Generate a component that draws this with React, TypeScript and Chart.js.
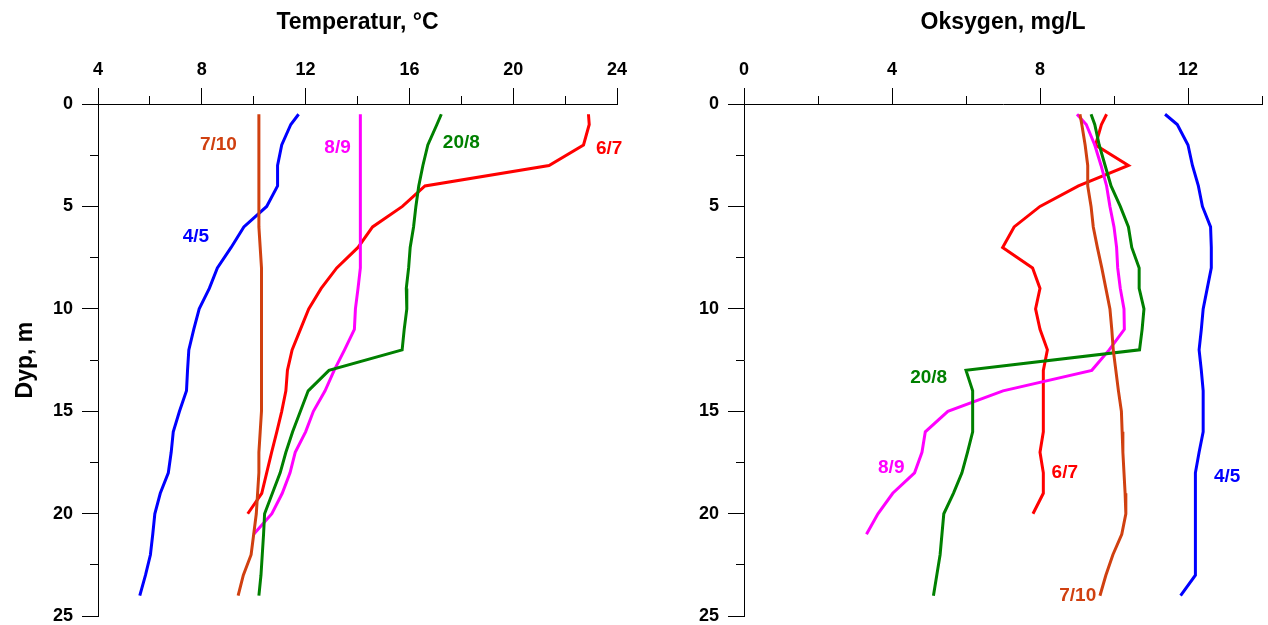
import React, { useEffect, useRef } from 'react';
import { Chart, registerables } from 'chart.js';

Chart.register(...registerables);

const FONT = '"Liberation Sans", Arial, Helvetica, sans-serif';

// ---- Depths (m) ----
const DEPTHS_0_24 = [0.5, 1, 2, 3, 4, 5, 6, 7, 8, 9, 10, 11, 12, 13, 14, 15, 16, 17, 18, 19, 20, 21, 22, 23, 24];
const DEPTHS_0_21 = DEPTHS_0_24.slice(0, 22);
const DEPTHS_0_20 = DEPTHS_0_24.slice(0, 21);

// ---- Series names ----
const SERIES_NAMES = ['7/10', '4/5', '20/8', '8/9', '6/7'];

// ---- Temperature, °C ----
const TEMP_7_10 = [10.2, 10.2, 10.2, 10.2, 10.2, 10.2, 10.2, 10.25, 10.3, 10.3, 10.3, 10.3, 10.3, 10.3, 10.3, 10.3, 10.25, 10.2, 10.2, 10.15, 10.1, 10.0, 9.9, 9.6, 9.4];
const TEMP_4_5 = [11.73, 11.43, 11.08, 10.92, 10.92, 10.5, 9.62, 9.13, 8.6, 8.29, 7.9, 7.69, 7.5, 7.45, 7.41, 7.14, 6.9, 6.82, 6.71, 6.4, 6.19, 6.11, 6.02, 5.83, 5.61];
const TEMP_20_8 = [17.23, 17.06, 16.71, 16.52, 16.36, 16.25, 16.16, 16.03, 15.97, 15.88, 15.9, 15.8, 15.72, 12.9, 12.1, 11.8, 11.5, 11.24, 11.02, 10.72, 10.42, 10.38, 10.33, 10.28, 10.2];
const TEMP_8_9 = [14.11, 14.11, 14.11, 14.11, 14.11, 14.11, 14.11, 14.11, 14.11, 14.02, 13.92, 13.88, 13.5, 13.1, 12.75, 12.3, 12.0, 11.6, 11.4, 11.1, 10.7, 10.0];
const TEMP_6_7 = [22.9, 22.93, 22.71, 21.38, 16.6, 15.73, 14.58, 14.02, 13.2, 12.6, 12.12, 11.8, 11.48, 11.3, 11.24, 11.08, 10.89, 10.69, 10.5, 10.31, 9.77];

// ---- Oxygen, mg/L ----
const OXY_7_10 = [9.08, 9.13, 9.22, 9.29, 9.29, 9.38, 9.44, 9.55, 9.67, 9.78, 9.89, 9.94, 9.98, 10.05, 10.12, 10.2, 10.22, 10.24, 10.27, 10.3, 10.32, 10.21, 9.97, 9.78, 9.62];
const OXY_4_5 = [11.38, 11.71, 12.0, 12.12, 12.28, 12.39, 12.61, 12.63, 12.63, 12.52, 12.41, 12.36, 12.3, 12.36, 12.41, 12.41, 12.41, 12.3, 12.2, 12.2, 12.2, 12.2, 12.2, 12.2, 11.8];
const OXY_20_8 = [9.38, 9.48, 9.6, 9.76, 9.92, 10.17, 10.39, 10.48, 10.68, 10.68, 10.81, 10.76, 10.69, 6.0, 6.18, 6.18, 6.18, 6.04, 5.89, 5.66, 5.4, 5.35, 5.3, 5.21, 5.12];
const OXY_8_9 = [9.0, 9.25, 9.48, 9.65, 9.8, 9.89, 10.0, 10.07, 10.1, 10.17, 10.27, 10.28, 9.87, 9.4, 7.0, 5.51, 4.9, 4.81, 4.61, 4.02, 3.62, 3.31];
const OXY_6_7 = [9.8, 9.66, 9.5, 10.39, 9.04, 8.0, 7.3, 6.99, 7.8, 8.0, 7.88, 8.0, 8.2, 8.09, 8.09, 8.09, 8.09, 8.0, 8.09, 8.09, 7.81];

// ---- Series label anchors (data units: value, depth) ----
const TEMP_LABEL_X = [8.64, 7.77, 18.0, 13.23, 23.7];
const TEMP_LABEL_Y = [2.0, 6.46, 1.9, 2.15, 2.2];
const OXY_LABEL_X = [9.02, 13.06, 4.99, 3.98, 8.67];
const OXY_LABEL_Y = [24.0, 18.2, 13.36, 17.76, 18.0];

// ---- Axis settings ----
const TEMP_MIN = 4;
const TEMP_MAX = 24;
const OXY_MIN = 0;
const OXY_MAX = 14;
const DEPTH_MIN = 0;
const DEPTH_MAX = 25;

const COLORS = ['#d04010', '#0000ff', '#008000', '#ff00ff', '#ff0000'];

function toPoints(xs: number[], ys: number[]) {
  return xs.map((v, i) => ({ x: v, y: ys[i] }));
}

function labelPlugin(xs: number[], ys: number[]) {
  return {
    id: 'seriesLabels',
    afterDatasetsDraw(chart: any) {
      const { ctx } = chart;
      const xs_ = chart.scales.x;
      const ys_ = chart.scales.y;
      ctx.save();
      ctx.font = `bold 19px ${FONT}`;
      ctx.textAlign = 'center';
      ctx.textBaseline = 'middle';
      SERIES_NAMES.forEach((name, i) => {
        ctx.fillStyle = COLORS[i];
        ctx.fillText(name, xs_.getPixelForValue(xs[i]), ys_.getPixelForValue(ys[i]));
      });
      ctx.restore();
    },
  };
}

function buildConfig(
  series: { x: number[]; y: number[] }[],
  xMin: number,
  xMax: number,
  xTitle: string,
  yTitle: string | null,
  yWidth: number,
  padRight: number,
  labelsX: number[],
  labelsY: number[]
): any {
  const tickFont = { family: FONT, size: 18, weight: 'bold' as const };
  const titleFont = { family: FONT, size: 23, weight: 'bold' as const };
  return {
    type: 'line',
    data: {
      datasets: series.map((s, i) => ({
        label: SERIES_NAMES[i],
        data: toPoints(s.x, s.y),
        borderColor: COLORS[i],
        backgroundColor: COLORS[i],
        borderWidth: 3,
        pointRadius: 0,
        tension: 0,
        fill: false,
      })),
    },
    options: {
      animation: false,
      responsive: false,
      maintainAspectRatio: false,
      events: [],
      layout: { padding: { left: 0, right: padRight, top: 0, bottom: 0 } },
      plugins: {
        legend: { display: false },
        tooltip: { enabled: false },
        title: { display: false },
      },
      scales: {
        x: {
          type: 'linear',
          position: 'top',
          min: xMin,
          max: xMax,
          ticks: {
            stepSize: 2,
            autoSkip: false,
            maxRotation: 0,
            padding: 7,
            color: '#000',
            font: tickFont,
            callback: (v: number) => (Math.abs(v % 4) < 1e-6 ? String(v) : ''),
          },
          grid: {
            drawOnChartArea: false,
            drawTicks: true,
            tickLength: 16,
            tickColor: '#000',
            tickWidth: 1,
            tickBorderDash: (c: any) =>
              c.tick && Math.abs(c.tick.value % 4) > 1e-6 ? [0, 8, 8, 100] : [],
          },
          border: { display: true, color: '#000', width: 1 },
          title: {
            display: true,
            text: xTitle,
            color: '#000',
            font: titleFont,
            padding: { top: 9, bottom: 0 },
          },
          afterFit: (s: any) => {
            s.height = 104;
          },
        },
        y: {
          type: 'linear',
          position: 'left',
          reverse: true,
          min: DEPTH_MIN,
          max: DEPTH_MAX,
          ticks: {
            stepSize: 2.5,
            autoSkip: false,
            padding: 9,
            color: '#000',
            font: tickFont,
            callback: (v: number) => (Math.abs(v % 5) < 1e-6 ? String(v) : ''),
          },
          grid: {
            drawOnChartArea: false,
            drawTicks: true,
            tickLength: 16,
            tickColor: '#000',
            tickWidth: 1,
            tickBorderDash: (c: any) =>
              c.tick && Math.abs(c.tick.value % 5) > 1e-6 ? [0, 8, 8, 100] : [],
          },
          border: { display: true, color: '#000', width: 1 },
          title: yTitle
            ? {
                display: true,
                text: yTitle,
                color: '#000',
                font: titleFont,
                padding: { top: 12, bottom: 0 },
              }
            : { display: false },
          afterFit: (s: any) => {
            s.width = yWidth;
          },
        },
      },
    },
    plugins: [labelPlugin(labelsX, labelsY)],
  };
}

export default function App() {
  const leftRef = useRef<HTMLCanvasElement | null>(null);
  const rightRef = useRef<HTMLCanvasElement | null>(null);

  useEffect(() => {
    const tempSeries = [
      { x: TEMP_7_10, y: DEPTHS_0_24 },
      { x: TEMP_4_5, y: DEPTHS_0_24 },
      { x: TEMP_20_8, y: DEPTHS_0_24 },
      { x: TEMP_8_9, y: DEPTHS_0_21 },
      { x: TEMP_6_7, y: DEPTHS_0_20 },
    ];
    const oxySeries = [
      { x: OXY_7_10, y: DEPTHS_0_24 },
      { x: OXY_4_5, y: DEPTHS_0_24 },
      { x: OXY_20_8, y: DEPTHS_0_24 },
      { x: OXY_8_9, y: DEPTHS_0_21 },
      { x: OXY_6_7, y: DEPTHS_0_20 },
    ];
    const left = new Chart(
      leftRef.current as HTMLCanvasElement,
      buildConfig(tempSeries, TEMP_MIN, TEMP_MAX, 'Temperatur, °C', 'Dyp, m', 98, 23, TEMP_LABEL_X, TEMP_LABEL_Y)
    );
    const right = new Chart(
      rightRef.current as HTMLCanvasElement,
      buildConfig(oxySeries, OXY_MIN, OXY_MAX, 'Oksygen, mg/L', null, 104, 8, OXY_LABEL_X, OXY_LABEL_Y)
    );
    return () => {
      left.destroy();
      right.destroy();
    };
  }, []);

  return (
    <div
      style={{
        position: 'fixed',
        left: 0,
        top: 0,
        width: 1268,
        height: 625,
        background: '#fff',
        overflow: 'hidden',
      }}
    >
      <canvas
        ref={leftRef}
        width={640}
        height={636}
        style={{ position: 'absolute', left: 0, top: 0, width: 640, height: 636 }}
      />
      <canvas
        ref={rightRef}
        width={630}
        height={636}
        style={{ position: 'absolute', left: 640, top: 0, width: 630, height: 636 }}
      />
    </div>
  );
}
